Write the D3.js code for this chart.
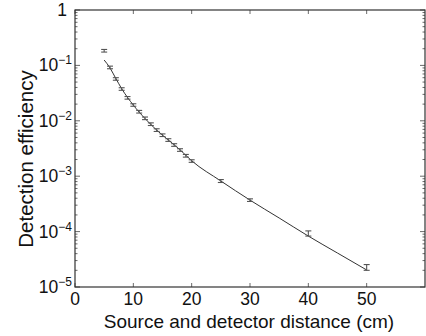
<!DOCTYPE html>
<html>
<head>
<meta charset="utf-8">
<script src="https://cdn.jsdelivr.net/npm/d3@7"></script>
<style>
  body { margin: 0; background: #fff; }
  svg { display: block; font-family: "Liberation Sans", Arial, sans-serif; }
</style>
</head>
<body>
<div id="chart"></div>
<script>
// measured points
const distance = [5, 6, 7, 8, 9, 10, 11, 12, 13, 14, 15, 16, 17, 18, 19, 20, 25, 30, 40, 50]
const efficiency = [0.184, 0.092, 0.057, 0.0375, 0.026, 0.0193, 0.0146, 0.0111, 0.0087, 0.0068,
  0.0055, 0.0045, 0.00366, 0.00297, 0.00234, 0.00188, 0.00082, 0.00037, 9.3e-5, 2.27e-5]
const errors = [0.01, 0.005, 0.003, 0.002, 0.0014, 0.001, 0.0008, 0.0006, 0.00048, 0.00038,
  0.0003, 0.00025, 0.0002, 0.00016, 0.00013, 0.0001, 0.00005, 0.00002, 0.00001, 0.0000027]

// fitted curve
const fitX = [5, 6, 7, 8, 10, 12, 14, 16, 18, 20, 25, 30, 35, 40, 45, 50]
const fitY = [0.125, 0.09, 0.058, 0.038, 0.0192, 0.011, 0.0068, 0.0045, 0.003, 0.0019,
  0.00082, 0.00037, 0.000176, 8.3e-5, 4.1e-5, 2.03e-5]

const xTicks = [0, 10, 20, 30, 40, 50]
const yTicks = [1e-5, 1e-4, 1e-3, 1e-2, 1e-1, 1]

const width = 426, height = 336
const margin = {top: 10, right: 1, bottom: 49, left: 75}
const W = width - margin.left - margin.right
const H = height - margin.top - margin.bottom

const x = d3.scaleLinear().domain([0, 60]).range([0, W])
const y = d3.scaleLog().domain([1e-5, 1]).range([H, 0])

const svg = d3.select("#chart").append("svg")
  .attr("width", width)
  .attr("height", height)

const g = svg.append("g").attr("transform", `translate(${margin.left},${margin.top})`)

// minor log ticks
let minor = []
for (let e = -5; e < 0; e++) {
  for (let m = 2; m <= 9; m++) minor.push(m * Math.pow(10, e))
}

const tickColor = "#444"
g.append("g").selectAll("line")
  .data(minor)
  .join("line")
  .attr("x1", 0).attr("x2", 2.5)
  .attr("y1", d => y(d)).attr("y2", d => y(d))
  .attr("stroke", tickColor).attr("stroke-width", 0.8)
  .clone(true).attr("x1", W).attr("x2", W - 2.5)

g.append("g").selectAll("line")
  .data(yTicks)
  .join("line")
  .attr("x1", 0).attr("x2", 5)
  .attr("y1", d => y(d)).attr("y2", d => y(d))
  .attr("stroke", tickColor).attr("stroke-width", 0.8)
  .clone(true).attr("x1", W).attr("x2", W - 5)

g.append("g").selectAll("line")
  .data(xTicks)
  .join("line")
  .attr("x1", d => x(d)).attr("x2", d => x(d))
  .attr("y1", H).attr("y2", H - 4)
  .attr("stroke", tickColor).attr("stroke-width", 0.8)
  .clone(true).attr("y1", 0).attr("y2", 4)

// frame
g.append("rect")
  .attr("width", W).attr("height", H)
  .attr("fill", "none")
  .attr("stroke", "#333")
  .attr("stroke-width", 1.2)

// tick labels
g.append("g").selectAll("text")
  .data(xTicks)
  .join("text")
  .attr("x", d => x(d))
  .attr("y", H + 18)
  .attr("text-anchor", "middle")
  .attr("font-size", 17.5)
  .attr("fill", "#111")
  .text(d => d)

const yl = g.append("g").selectAll("text")
  .data(yTicks)
  .join("text")
  .attr("x", -3)
  .attr("y", d => y(d) + 6)
  .attr("text-anchor", "end")
  .attr("font-size", 17.5)
  .attr("fill", "#111")

yl.each(function (d) {
  const t = d3.select(this)
  const e = Math.round(Math.log10(d))
  if (e === 0) {
    t.text("1").attr("x", -8)
  } else {
    t.append("tspan").text("10")
    t.append("tspan").attr("font-size", 12).attr("dy", -7).text("\u2212" + Math.abs(e))
  }
})

// axis titles
svg.append("text")
  .attr("x", 249)
  .attr("y", 328)
  .attr("text-anchor", "middle")
  .attr("font-size", 19)
  .attr("fill", "#111")
  .text("Source and detector distance (cm)")

svg.append("text")
  .attr("transform", "translate(33,159) rotate(-90)")
  .attr("text-anchor", "middle")
  .attr("font-size", 20.5)
  .attr("fill", "#111")
  .text("Detection efficiency")

// fit line
const line = d3.line()
  .x(d => x(d[0]))
  .y(d => y(d[1]))
  .curve(d3.curveMonotoneX)

g.append("path")
  .datum(d3.zip(fitX, fitY))
  .attr("d", line)
  .attr("fill", "none")
  .attr("stroke", "#333")
  .attr("stroke-width", 1)

// error bars
const pts = distance.map((d, i) => ({x: d, y: efficiency[i], e: errors[i]}))
const eb = g.append("g")
  .attr("stroke", "#555")
  .attr("stroke-width", 1.1)
  .selectAll("g")
  .data(pts)
  .join("g")

eb.append("line")
  .attr("x1", d => x(d.x)).attr("x2", d => x(d.x))
  .attr("y1", d => y(d.y - d.e)).attr("y2", d => y(d.y + d.e))
eb.append("line")
  .attr("x1", d => x(d.x) - 3).attr("x2", d => x(d.x) + 3)
  .attr("y1", d => y(d.y - d.e)).attr("y2", d => y(d.y - d.e))
eb.append("line")
  .attr("x1", d => x(d.x) - 3).attr("x2", d => x(d.x) + 3)
  .attr("y1", d => y(d.y + d.e)).attr("y2", d => y(d.y + d.e))
</script>
</body>
</html>
